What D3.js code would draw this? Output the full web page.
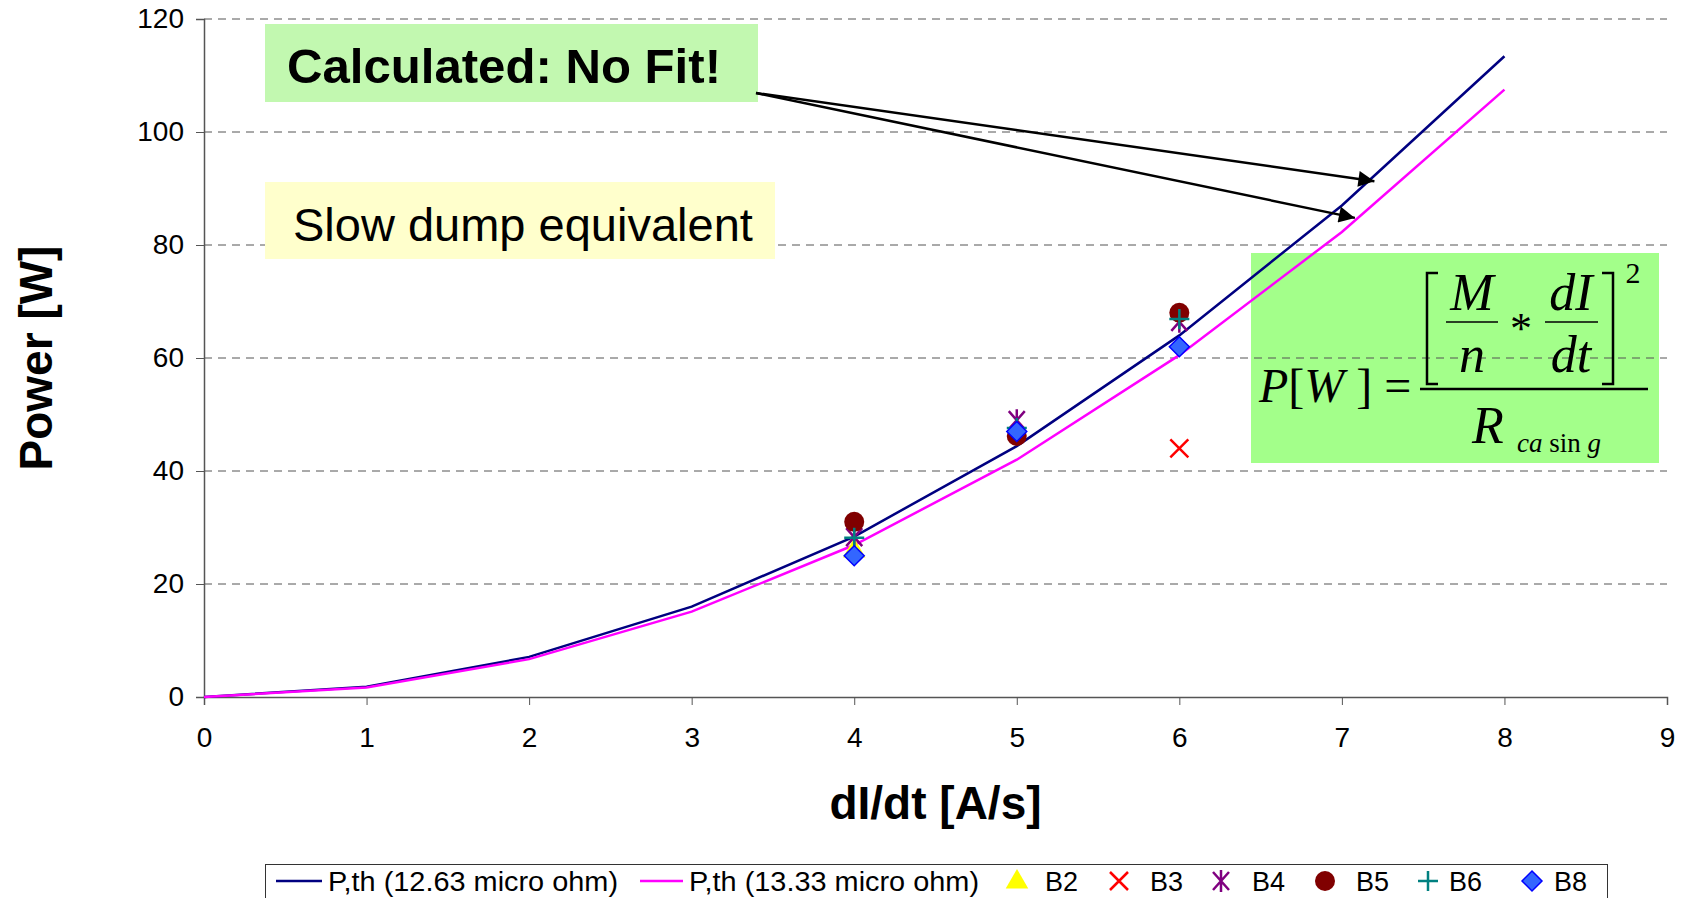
<!DOCTYPE html>
<html>
<head>
<meta charset="utf-8">
<script src="https://cdn.jsdelivr.net/npm/d3@7"></script>
<style>
  body { margin: 0; background: #fff; }
  svg { display: block; font-family: "Liberation Sans", Arial, sans-serif; }
</style>
</head>
<body>
<div class="canvas"></div>
<script>
// data
var xValues = [0, 1, 2, 3, 4, 5, 6, 7, 8];
var pth1263 = [0, 1.8, 7.1, 16, 28.4, 44.4, 64, 87, 113.4];
var pth1333 = [0, 1.7, 6.7, 15.1, 26.9, 42, 60.5, 82.3, 107.5];
var b2 = [{ x: 4, y: 26 }];
var b3 = [{ x: 6, y: 44 }];
var b4 = [{ x: 4, y: 28.3 }, { x: 5, y: 49 }, { x: 6, y: 66.4 }];
var b5 = [{ x: 4, y: 31 }, { x: 5, y: 46.2 }, { x: 6, y: 68 }];
var b6 = [{ x: 4, y: 28.2 }, { x: 5, y: 47.6 }, { x: 6, y: 66.9 }];
var b8 = [{ x: 4, y: 25 }, { x: 5, y: 47 }, { x: 6, y: 62 }];
var xTicks = [0, 1, 2, 3, 4, 5, 6, 7, 8, 9];
var yTicks = [0, 20, 40, 60, 80, 100, 120];

var width = 1681;
var height = 898;
var plotLeft = 204, plotRight = 1667, plotTop = 19, plotBottom = 697;

var svg = d3.select(".canvas").append("svg")
  .attr("width", width)
  .attr("height", height);

var xScale = d3.scaleLinear().domain([0, 9]).range([plotLeft, plotRight]);
var yScale = d3.scaleLinear().domain([0, 120]).range([plotBottom, plotTop]);

/* formula box background sits under grid and lines */
svg.append("rect")
  .attr("x", 1251).attr("y", 253).attr("width", 408).attr("height", 210)
  .attr("fill", "#a3ff8a");

/* grid */
svg.append("g")
  .selectAll("line")
  .data(yTicks.filter((d) => d > 0))
  .enter()
  .append("line")
  .attr("x1", plotLeft)
  .attr("x2", plotRight)
  .attr("y1", (d) => yScale(d))
  .attr("y2", (d) => yScale(d))
  .attr("stroke", "#555")
  .attr("stroke-width", 1)
  .attr("stroke-dasharray", "8,6");

/* axes */
var xAxis = d3.axisBottom(xScale).tickValues(xTicks).tickSize(8).tickPadding(22).tickFormat(d3.format("d"));
var yAxis = d3.axisLeft(yScale).tickValues(yTicks).tickSize(8).tickPadding(12).tickFormat(d3.format("d"));

var gx = svg.append("g").attr("transform", `translate(0, ${plotBottom})`).call(xAxis);
var gy = svg.append("g").attr("transform", `translate(${plotLeft}, 0)`).call(yAxis);
[gx, gy].forEach(function (g) {
  g.select(".domain").attr("stroke", "#555").attr("stroke-width", 1.5);
  g.selectAll(".tick line").attr("stroke", "#555");
  g.selectAll(".tick text")
    .attr("fill", "#000")
    .style("font-size", "28px")
    .style("font-family", "Liberation Sans, Arial, sans-serif");
});

/* axis titles */
svg.append("text")
  .attr("x", (plotLeft + plotRight) / 2)
  .attr("y", 819)
  .attr("text-anchor", "middle")
  .style("font-size", "46px")
  .style("font-weight", "bold")
  .text("dI/dt [A/s]");

svg.append("text")
  .attr("transform", `translate(52, ${(plotTop + plotBottom) / 2}) rotate(-90)`)
  .attr("text-anchor", "middle")
  .style("font-size", "46px")
  .style("font-weight", "bold")
  .text("Power [W]");

/* lines */
var line = d3.line()
  .x((d, i) => xScale(xValues[i]))
  .y((d) => yScale(d));

var lineSeries = [
  { name: "P,th (12.63 micro ohm)", values: pth1263, color: "#000080" },
  { name: "P,th (13.33 micro ohm)", values: pth1333, color: "#ff00ff" },
];

svg.append("g")
  .selectAll("path")
  .data(lineSeries)
  .enter()
  .append("path")
  .attr("d", (d) => line(d.values))
  .attr("fill", "none")
  .attr("stroke", (d) => d.color)
  .attr("stroke-width", 2.5);

/* markers */
function drawMarker(g, type, cx, cy) {
  if (type === "triangle") {
    g.append("path")
      .attr("d", d3.symbol().type(d3.symbolTriangle).size(220)())
      .attr("transform", `translate(${cx}, ${cy + 1})`)
      .attr("fill", "#ffff00");
  } else if (type === "x") {
    g.append("path")
      .attr("d", "M-9,-9L9,9M-9,9L9,-9")
      .attr("transform", `translate(${cx}, ${cy})`)
      .attr("stroke", "#ff0000")
      .attr("stroke-width", 2.5)
      .attr("fill", "none");
  } else if (type === "star") {
    g.append("path")
      .attr("d", "M-8,-9L8,9M-8,9L8,-9M0,-11L0,11")
      .attr("transform", `translate(${cx}, ${cy})`)
      .attr("stroke", "#800080")
      .attr("stroke-width", 2.5)
      .attr("fill", "none");
  } else if (type === "circle") {
    g.append("circle")
      .attr("cx", cx)
      .attr("cy", cy)
      .attr("r", 10)
      .attr("fill", "#800000");
  } else if (type === "plus") {
    g.append("path")
      .attr("d", "M-10,0L10,0M0,-10L0,10")
      .attr("transform", `translate(${cx}, ${cy})`)
      .attr("stroke", "#008080")
      .attr("stroke-width", 2.5)
      .attr("fill", "none");
  } else if (type === "diamond") {
    g.append("path")
      .attr("d", "M0,-10L10,0L0,10L-10,0Z")
      .attr("transform", `translate(${cx}, ${cy})`)
      .attr("fill", "#3366ff")
      .attr("stroke", "#0000ff")
      .attr("stroke-width", 1.5);
  }
}

var pointSeries = [
  { name: "B2", values: b2, type: "triangle" },
  { name: "B3", values: b3, type: "x" },
  { name: "B4", values: b4, type: "star" },
  { name: "B5", values: b5, type: "circle" },
  { name: "B6", values: b6, type: "plus" },
  { name: "B8", values: b8, type: "diamond" },
];

var points = svg.append("g");
pointSeries.forEach(function (s) {
  s.values.forEach(function (d) {
    drawMarker(points, s.type, xScale(d.x), yScale(d.y));
  });
});

/* annotation boxes */
svg.append("rect")
  .attr("x", 265).attr("y", 24).attr("width", 493).attr("height", 78)
  .attr("fill", "#c2f8b0");
svg.append("text")
  .attr("x", 287).attr("y", 83)
  .style("font-size", "48px")
  .style("font-weight", "bold")
  .attr("textLength", 434)
  .attr("lengthAdjust", "spacingAndGlyphs")
  .text("Calculated: No Fit!");

svg.append("rect")
  .attr("x", 265).attr("y", 182).attr("width", 510).attr("height", 77)
  .attr("fill", "#ffffcc");
svg.append("text")
  .attr("x", 293).attr("y", 241)
  .style("font-size", "47px")
  .text("Slow dump equivalent");

/* arrows */
svg.append("defs").append("marker")
  .attr("id", "arrow")
  .attr("viewBox", "0 0 10 10")
  .attr("refX", 10).attr("refY", 5)
  .attr("markerWidth", 22).attr("markerHeight", 16)
  .attr("markerUnits", "userSpaceOnUse")
  .attr("orient", "auto")
  .append("path")
  .attr("d", "M0,0L10,5L0,10Z")
  .attr("fill", "#000");

var arrowTips = [{ x: 7.2, y: 91.3 }, { x: 7.08, y: 84.8 }];
svg.append("g")
  .selectAll("line")
  .data(arrowTips)
  .enter()
  .append("line")
  .attr("x1", 756).attr("y1", 93)
  .attr("x2", (d) => xScale(d.x))
  .attr("y2", (d) => yScale(d.y))
  .attr("stroke", "#000")
  .attr("stroke-width", 2.5)
  .attr("marker-end", "url(#arrow)");

/* formula */
var f = svg.append("g").style("font-family", "Liberation Serif, Times New Roman, serif");
f.append("text")
  .attr("x", 1259).attr("y", 402)
  .style("font-size", "48px")
  .html('<tspan font-style="italic">P</tspan>[<tspan font-style="italic">W</tspan> ] =');
f.append("line")
  .attr("x1", 1420).attr("x2", 1648).attr("y1", 389).attr("y2", 389)
  .attr("stroke", "#000").attr("stroke-width", 2.5);
f.append("path")
  .attr("d", "M1438,273L1427,273L1427,384L1438,384")
  .attr("fill", "none").attr("stroke", "#000").attr("stroke-width", 2.5);
f.append("path")
  .attr("d", "M1602,273L1613,273L1613,384L1602,384")
  .attr("fill", "none").attr("stroke", "#000").attr("stroke-width", 2.5);
f.append("text").attr("x", 1633).attr("y", 283).attr("text-anchor", "middle")
  .style("font-size", "30px").text("2");
[
  { t: "M", x: 1472, y: 310 },
  { t: "n", x: 1472, y: 372 },
  { t: "dI", x: 1571, y: 310 },
  { t: "dt", x: 1571, y: 372 },
].forEach(function (d) {
  f.append("text").attr("x", d.x).attr("y", d.y).attr("text-anchor", "middle")
    .style("font-size", "52px").style("font-style", "italic").text(d.t);
});
f.append("line").attr("x1", 1446).attr("x2", 1498).attr("y1", 322).attr("y2", 322)
  .attr("stroke", "#000").attr("stroke-width", 1.5);
f.append("line").attr("x1", 1545).attr("x2", 1598).attr("y1", 322).attr("y2", 322)
  .attr("stroke", "#000").attr("stroke-width", 1.5);
f.append("text").attr("x", 1521).attr("y", 343).attr("text-anchor", "middle")
  .style("font-size", "44px").text("*");
f.append("text").attr("x", 1472).attr("y", 443)
  .style("font-size", "52px").style("font-style", "italic").text("R");
f.append("text").attr("x", 1517).attr("y", 452)
  .style("font-size", "27px")
  .html('<tspan font-style="italic">ca</tspan> sin <tspan font-style="italic">g</tspan>');

/* legend */
var lg = svg.append("g");
lg.append("rect")
  .attr("x", 265.5).attr("y", 864.5).attr("width", 1342).attr("height", 40)
  .attr("fill", "#fff").attr("stroke", "#333").attr("stroke-width", 1);
var legendY = 881;
var legendLines = [
  { s: lineSeries[0], x1: 276, x2: 322, tx: 328 },
  { s: lineSeries[1], x1: 640, x2: 683, tx: 689 },
];
legendLines.forEach(function (d) {
  lg.append("line").attr("x1", d.x1).attr("x2", d.x2)
    .attr("y1", legendY).attr("y2", legendY)
    .attr("stroke", d.s.color).attr("stroke-width", 2.5);
  lg.append("text").attr("x", d.tx).attr("y", 891)
    .style("font-size", "27px")
    .attr("textLength", 290)
    .attr("lengthAdjust", "spacingAndGlyphs")
    .text(d.s.name);
});
var legendMarks = [1017, 1119, 1221, 1325, 1428, 1532];
var legendTexts = [1045, 1150, 1252, 1356, 1449, 1554];
pointSeries.forEach(function (s, i) {
  drawMarker(lg, s.type, legendMarks[i], legendY);
  lg.append("text").attr("x", legendTexts[i]).attr("y", 891)
    .style("font-size", "27px").text(s.name);
});
</script>
</body>
</html>
